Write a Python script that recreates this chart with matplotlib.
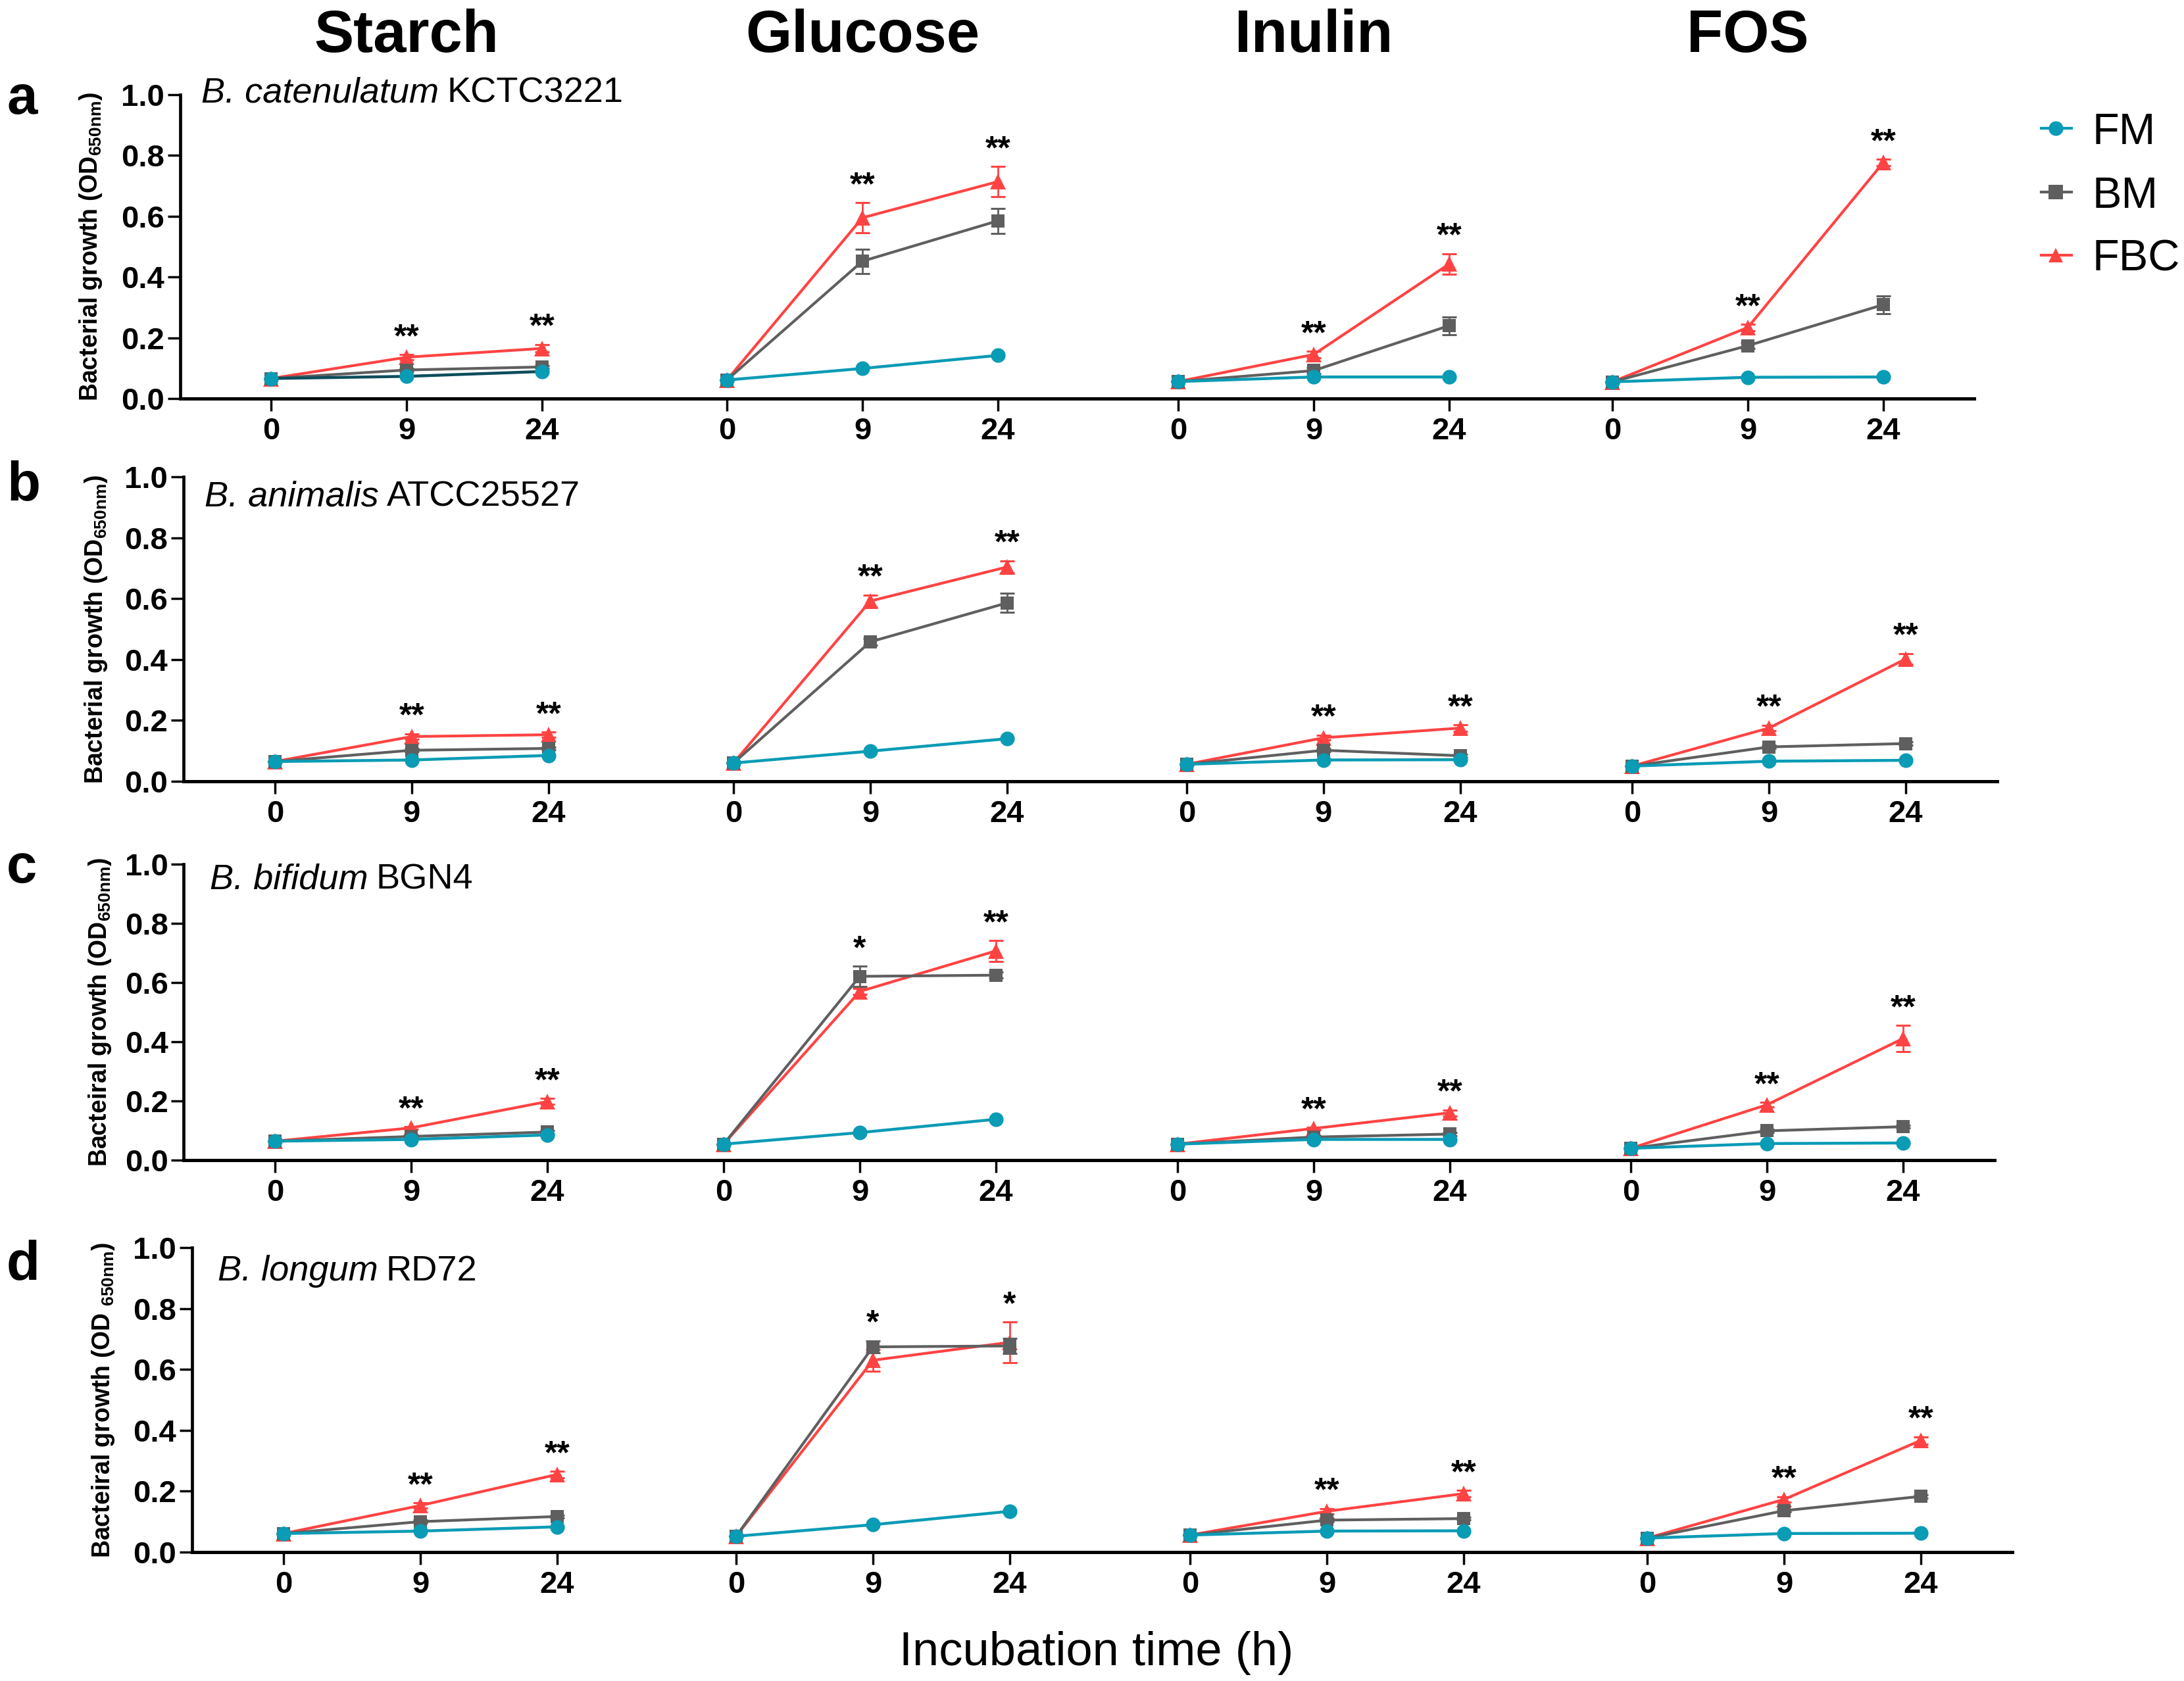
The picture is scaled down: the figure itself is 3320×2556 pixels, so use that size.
import numpy as np
import matplotlib.pyplot as plt
from matplotlib.lines import Line2D

plt.rcParams['font.family'] = ['Liberation Sans', 'DejaVu Sans']
plt.rcParams['mathtext.fontset'] = 'custom'
plt.rcParams['mathtext.rm'] = 'Liberation Sans'
plt.rcParams['mathtext.it'] = 'Liberation Sans:italic'
plt.rcParams['mathtext.bf'] = 'Liberation Sans:bold'

# ---- data ----
times = ['0', '9', '24']
sugars = ['Starch', 'Glucose', 'Inulin', 'FOS']
series = ['FM', 'BM', 'FBC']
row_letters = ['a', 'b', 'c', 'd']
species = ['B. catenulatum', 'B. animalis', 'B. bifidum', 'B. longum']
strain_ids = ['KCTC3221', 'ATCC25527', 'BGN4', 'RD72']
ylabels = [r'Bacterial growth (OD$_{\mathbf{650nm}}$)',
           r'Bacterial growth (OD$_{\mathbf{650nm}}$)',
           r'Bacteiral growth (OD$_{\mathbf{650nm}}$)',
           r'Bacteiral growth (OD $_{\mathbf{650nm}}$)']

# row a: B. catenulatum (one list per sugar: 0, 9, 24 h)
fm_a = [[0.066, 0.073, 0.089], [0.061, 0.099, 0.142], [0.056, 0.071, 0.071], [0.055, 0.070, 0.071]]
bm_a = [[0.066, 0.094, 0.104], [0.061, 0.452, 0.585], [0.056, 0.092, 0.240], [0.055, 0.174, 0.309]]
fbc_a = [[0.066, 0.136, 0.165], [0.061, 0.595, 0.714], [0.056, 0.145, 0.443], [0.055, 0.234, 0.777]]
bm_err_a = [[0, 0.005, 0.005], [0, 0.040, 0.041], [0, 0.010, 0.029], [0, 0.010, 0.029]]
fbc_err_a = [[0, 0.008, 0.012], [0, 0.049, 0.049], [0, 0.010, 0.034], [0, 0.010, 0.010]]
stars_a = [['', '**', '**'], ['', '**', '**'], ['', '**', '**'], ['', '**', '**']]

# row b: B. animalis
fm_b = [[0.065, 0.070, 0.085], [0.060, 0.099, 0.140], [0.056, 0.070, 0.071], [0.050, 0.066, 0.069]]
bm_b = [[0.065, 0.102, 0.108], [0.060, 0.458, 0.586], [0.056, 0.102, 0.084], [0.050, 0.113, 0.124]]
fbc_b = [[0.065, 0.147, 0.153], [0.060, 0.592, 0.704], [0.056, 0.143, 0.175], [0.050, 0.175, 0.402]]
bm_err_b = [[0, 0.005, 0.005], [0, 0.010, 0.031], [0, 0.005, 0.005], [0, 0.005, 0.005]]
fbc_err_b = [[0, 0.008, 0.008], [0, 0.020, 0.020], [0, 0.008, 0.010], [0, 0.008, 0.018]]
stars_b = [['', '**', '**'], ['', '**', '**'], ['', '**', '**'], ['', '**', '**']]

# row c: B. bifidum
fm_c = [[0.064, 0.070, 0.085], [0.054, 0.093, 0.138], [0.054, 0.070, 0.070], [0.040, 0.056, 0.058]]
bm_c = [[0.064, 0.080, 0.095], [0.054, 0.621, 0.625], [0.054, 0.078, 0.088], [0.040, 0.099, 0.113]]
fbc_c = [[0.064, 0.109, 0.198], [0.054, 0.570, 0.707], [0.054, 0.107, 0.160], [0.040, 0.187, 0.411]]
bm_err_c = [[0, 0.005, 0.005], [0, 0.035, 0.010], [0, 0.005, 0.005], [0, 0.005, 0.005]]
fbc_err_c = [[0, 0.005, 0.010], [0, 0.010, 0.035], [0, 0.005, 0.010], [0, 0.008, 0.045]]
stars_c = [['', '**', '**'], ['', '*', '**'], ['', '**', '**'], ['', '**', '**']]

# row d: B. longum
fm_d = [[0.061, 0.069, 0.083], [0.052, 0.090, 0.134], [0.056, 0.069, 0.070], [0.046, 0.061, 0.062]]
bm_d = [[0.061, 0.100, 0.117], [0.052, 0.674, 0.677], [0.056, 0.105, 0.110], [0.046, 0.136, 0.183]]
fbc_d = [[0.061, 0.153, 0.255], [0.052, 0.630, 0.689], [0.056, 0.134, 0.192], [0.046, 0.173, 0.367]]
bm_err_d = [[0, 0.005, 0.005], [0, 0.020, 0.025], [0, 0.005, 0.005], [0, 0.005, 0.005]]
fbc_err_d = [[0, 0.008, 0.010], [0, 0.036, 0.066], [0, 0.008, 0.010], [0, 0.008, 0.012]]
stars_d = [['', '**', '**'], ['', '*', '*'], ['', '**', '**'], ['', '**', '**']]

fm_rows = [fm_a, fm_b, fm_c, fm_d]
bm_rows = [bm_a, bm_b, bm_c, bm_d]
fbc_rows = [fbc_a, fbc_b, fbc_c, fbc_d]
bm_err_rows = [bm_err_a, bm_err_b, bm_err_c, bm_err_d]
fbc_err_rows = [fbc_err_a, fbc_err_b, fbc_err_c, fbc_err_d]
star_rows = [stars_a, stars_b, stars_c, stars_d]

# ---- layout (pixels of a 3320x2556 canvas) ----
W, H = 3320, 2556
row_y0 = [606, 1188, 1764, 2360]
row_y1 = [144, 725, 1314, 1897]
row_tick0 = [[412, 1105, 1791, 2451], [418, 1115, 1804, 2481],
             [418, 1100, 1790, 2479], [431, 1119, 1809, 2504]]
row_sp = [206, 208, 207, 208]
letter_base = [173, 760, 1342, 1945]
strain_pos = [(306, 155), (311, 769), (319, 1351), (331, 1947)]
ylab_x = [138, 146, 152, 157]

teal = '#0a9bb5'
gray = '#5f5f5f'
red = '#ff4343'
colors = {'FM': teal, 'BM': gray, 'FBC': red}
markers = {'FM': 'o', 'BM': 's', 'FBC': '^'}

fig = plt.figure(figsize=(W / 100, H / 100), dpi=100)
renderer = fig.canvas.get_renderer()

def fx(px):
    return px / W

def fy(py):
    return 1 - py / H

x = np.arange(3)
for r in range(4):
    sp = row_sp[r]
    lefts = [t - 0.67 * sp for t in row_tick0[r]]
    for c in range(4):
        t0 = row_tick0[r][c]
        left = lefts[c]
        right = lefts[c + 1] if c < 3 else t0 + 2.67 * sp
        ax = fig.add_axes([fx(left), fy(row_y0[r]), (right - left) / W,
                           (row_y0[r] - row_y1[r]) / H])
        ax.set_xlim(-0.67, (right - t0) / sp)
        ax.set_ylim(0, 1.0)

        fm = fm_rows[r][c]
        bm = bm_rows[r][c]
        fbc = fbc_rows[r][c]
        bm_e = bm_err_rows[r][c]
        fbc_e = fbc_err_rows[r][c]

        ax.errorbar(x, fbc, yerr=fbc_e, color=red, lw=3, capsize=8,
                    elinewidth=2, capthick=2.2, zorder=3)
        ax.plot(x, fbc, color=red, marker='^', ms=17, lw=0, mew=0, zorder=3.5)
        ax.errorbar(x, bm, yerr=bm_e, color=gray, lw=3, capsize=8,
                    elinewidth=2, capthick=2.2, zorder=4)
        ax.plot(x, bm, color=gray, marker='s', ms=15, lw=0, mew=0, zorder=4.5)
        fm_line = '#0c4d5c' if (r == 0 and c == 0) else teal
        ax.plot(x, fm, color=fm_line, lw=3.2, zorder=5)
        ax.plot(x, fm, color=teal, marker='o', ms=16, lw=0, mew=0, zorder=6)

        for i, s in enumerate(star_rows[r][c]):
            if s:
                top = max(fm[i], bm[i] + bm_e[i], fbc[i] + fbc_e[i])
                ax.text(i, top + 0.055, s, ha='center', va='center',
                        fontsize=36, fontweight='bold')

        for side in ['top', 'right']:
            ax.spines[side].set_visible(False)
        ax.spines['bottom'].set_linewidth(3.6)
        ax.set_xticks(x)
        ax.set_xticklabels(times, fontsize=34, fontweight='bold')
        ax.tick_params(axis='x', direction='out', length=14, width=2.5, pad=6)
        if c == 0:
            ax.spines['left'].set_linewidth(3.4)
            ax.set_yticks(np.arange(0, 1.01, 0.2))
            ax.set_yticklabels(['%.1f' % v for v in np.arange(0, 1.01, 0.2)],
                               fontsize=34, fontweight='bold')
            ax.tick_params(axis='y', direction='out', length=14, width=2.5, pad=3)
        else:
            ax.spines['left'].set_visible(False)
            ax.tick_params(axis='y', left=False, labelleft=False)
        ax.patch.set_visible(False)

    fig.text(fx(10), fy(letter_base[r]), row_letters[r], fontsize=60,
             fontweight='bold', ha='left', va='baseline')
    # italic species name followed by the strain id in roman
    sx, sy = strain_pos[r]
    t_it = fig.text(fx(sx), fy(sy), species[r], fontsize=39, style='italic',
                    ha='left', va='baseline')
    bb = t_it.get_window_extent(renderer=renderer)
    fig.text(fx(bb.x1 + 12), fy(sy), strain_ids[r], fontsize=39,
             ha='left', va='baseline')
    fig.text(fx(ylab_x[r]), fy((row_y0[r] + row_y1[r]) / 2), ylabels[r], fontsize=27,
             fontweight='bold', rotation=90, ha='center', va='center')

# column titles centred over the middle tick of row a
for c, name in enumerate(sugars):
    cx = row_tick0[0][c] + row_sp[0]
    fig.text(fx(cx), fy(79), name, fontsize=65, fontweight='bold',
             ha='center', va='baseline')

fig.text(fx(1667), fy(2532), 'Incubation time (h)', fontsize=52,
         ha='center', va='baseline')

# legend
leg_base = [219, 316, 412]
for k, name in enumerate(series):
    yc = leg_base[k] - 24
    fig.add_artist(Line2D([fx(3103), fx(3125), fx(3149)], [fy(yc)] * 3,
                          color=colors[name], lw=3, marker=markers[name], ms=16,
                          mew=0, markevery=[1], transform=fig.transFigure))
    fig.text(fx(3180), fy(leg_base[k]), name, fontsize=48, ha='left', va='baseline')

fig.savefig('out.png', dpi=100)
